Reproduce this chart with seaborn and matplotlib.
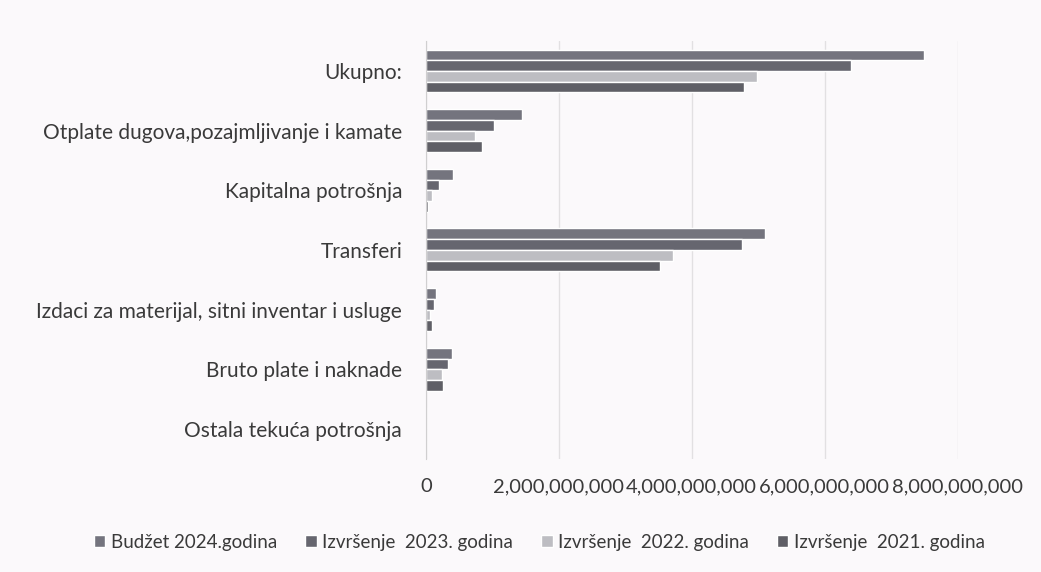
import pandas as pd
import matplotlib.pyplot as plt
import seaborn as sb
from matplotlib.ticker import FuncFormatter

categories = [
    "Ukupno:",
    "Otplate dugova,pozajmljivanje i kamate",
    "Kapitalna potrošnja",
    "Transferi",
    "Izdaci za materijal, sitni inventar i usluge",
    "Bruto plate i naknade",
    "Ostala tekuća potrošnja",
]
series = [
    "Budžet 2024.godina",
    "Izvršenje  2023. godina",
    "Izvršenje  2022. godina",
    "Izvršenje  2021. godina",
]
budzet_2024 = [7.50e9, 1.44e9, 0.41e9, 5.10e9, 0.15e9, 0.39e9, 0.005e9]
izvrsenje_2023 = [6.40e9, 1.02e9, 0.20e9, 4.75e9, 0.12e9, 0.33e9, 0.004e9]
izvrsenje_2022 = [4.98e9, 0.74e9, 0.10e9, 3.72e9, 0.07e9, 0.25e9, 0.003e9]
izvrsenje_2021 = [4.78e9, 0.84e9, 0.04e9, 3.53e9, 0.10e9, 0.26e9, 0.003e9]

colors = ["#74747e", "#66666f", "#bdbdc2", "#5f5f66"]

rows = []
for name, vals in zip(series, [budzet_2024, izvrsenje_2023, izvrsenje_2022, izvrsenje_2021]):
    for cat, v in zip(categories, vals):
        rows.append({"kategorija": cat, "serija": name, "iznos": v})
df = pd.DataFrame(rows)

sb.set_style("white")
plt.rcParams["font.family"] = ["Lato", "DejaVu Sans"]

fig = plt.figure(figsize=(10.41, 5.72), dpi=100)
fig.patch.set_facecolor("#fbf9fb")
ax = fig.add_axes([0.409, 0.198, 0.511, 0.73])
ax.set_facecolor("#fbf9fb")

sb.barplot(data=df, y="kategorija", x="iznos", hue="serija", order=categories,
           hue_order=series, palette=colors, width=0.72, orient="h", ax=ax,
           saturation=1, legend=True)

ax.set_xlim(0, 8e9)
ax.set_xticks([0, 2e9, 4e9, 6e9, 8e9])
ax.xaxis.set_major_formatter(FuncFormatter(lambda v, p: f"{v:,.0f}"))
ax.grid(axis="x", color="#e2e0e2", linewidth=1)
ax.set_axisbelow(True)
ax.set_xlabel("")
ax.set_ylabel("")
for s in ["top", "right", "bottom"]:
    ax.spines[s].set_visible(False)
ax.spines["left"].set_color("#d0cfd0")
ax.tick_params(axis="both", length=0, labelsize=15, colors="#3a3a3a")
ax.tick_params(axis="x", pad=14, labelsize=14.5)
ax.tick_params(axis="y", pad=17)

ax.legend(loc="center", bbox_to_anchor=(0.214, -0.2), ncol=4, frameon=False,
          fontsize=13.5, handlelength=0.6, handleheight=0.6, handletextpad=0.3,
          columnspacing=1.5, labelcolor="#3a3a3a")

fig.savefig("out.png", dpi=100, facecolor=fig.get_facecolor())
